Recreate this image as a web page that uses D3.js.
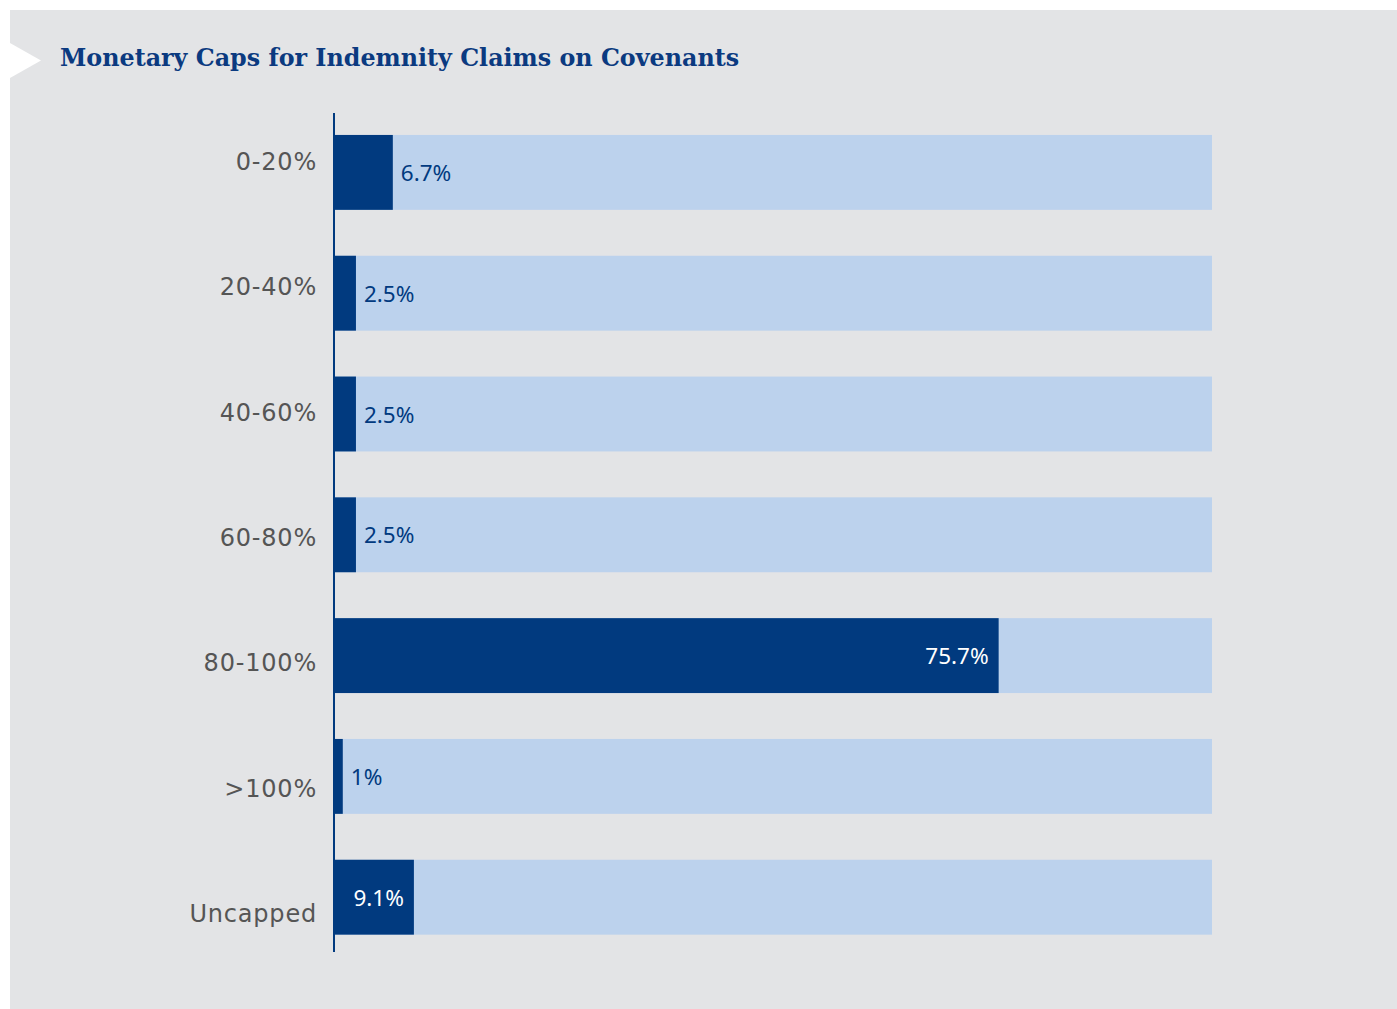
<!DOCTYPE html>
<html>
<head>
<meta charset="utf-8">
<script src="https://cdn.jsdelivr.net/npm/d3@7"></script>
<style>
  html, body { margin: 0; padding: 0; background: #ffffff; }
  svg { display: block; }
</style>
</head>
<body>
<svg id="chart" width="1397" height="1009"></svg>
<script>
// Monetary caps for indemnity claims on covenants, share of deals (%)
const categories = ["0-20%", "20-40%", "40-60%", "60-80%", "80-100%", ">100%", "Uncapped"];
const values = [6.7, 2.5, 2.5, 2.5, 75.7, 1, 9.1];
const valueLabels = ["6.7%", "2.5%", "2.5%", "2.5%", "75.7%", "1%", "9.1%"];
const title = "Monetary Caps for Indemnity Claims on Covenants";

const W = 1397, H = 1009;
const dark = "#013a7f", light = "#bcd2ed", panel = "#e3e4e6";

const svg = d3.select("#chart");

// panel background
svg.append("rect").attr("x", 10).attr("y", 10).attr("width", W - 10).attr("height", H - 10).attr("fill", panel);

// white arrow marker next to the title
svg.append("path").attr("d", "M10,43 L41,60.5 L10,78 Z").attr("fill", "#ffffff");

svg.append("text")
  .attr("x", 60).attr("y", 66)
  .attr("font-family", "'DejaVu Serif', serif")
  .attr("font-weight", "bold")
  .attr("font-size", 23.8)
  .attr("fill", "#0b3a80")
  .text(title);

const x0 = 334, x1 = 1212;
const x = d3.scaleLinear().domain([0, 100]).range([x0, x1]);
const y = d3.scaleBand().domain(categories).range([112, 957.6]).paddingInner(0.38).paddingOuter(0.19);
const yLabel = d3.scalePoint().domain(categories).range([162, 914]);

const rows = categories.map((c, i) => ({ cat: c, v: values[i], label: valueLabels[i] }));

// full-width track
svg.append("g").selectAll("rect").data(rows).join("rect")
  .attr("x", x(0)).attr("y", d => y(d.cat))
  .attr("width", x(100) - x(0)).attr("height", y.bandwidth())
  .attr("fill", light);

// value bars
svg.append("g").selectAll("rect").data(rows).join("rect")
  .attr("x", x(0)).attr("y", d => y(d.cat))
  .attr("width", d => x(d.v) - x(0)).attr("height", y.bandwidth())
  .attr("fill", dark);

// value labels: inside the bar when they fit, otherwise just past its end
const valG = svg.append("g")
  .attr("font-family", "'Noto Sans', sans-serif")
  .attr("font-size", 22.5);
valG.selectAll("text").data(rows).join("text")
  .attr("y", d => y(d.cat) + y.bandwidth() / 2)
  .attr("dominant-baseline", "central")
  .text(d => d.label)
  .each(function (d) {
    const tw = this.getComputedTextLength();
    const bw = x(d.v) - x(0);
    const t = d3.select(this);
    if (bw >= tw + 16) {
      t.attr("x", x(d.v) - 10).attr("text-anchor", "end").attr("fill", "#ffffff");
    } else {
      t.attr("x", x(d.v) + 8).attr("text-anchor", "start").attr("fill", dark);
    }
  });

// category labels
svg.append("g")
  .attr("font-family", "'DejaVu Sans', sans-serif")
  .attr("font-size", 24)
  .attr("fill", "#555555")
  .selectAll("text").data(categories).join("text")
  .attr("x", 317).attr("y", d => yLabel(d))
  .attr("text-anchor", "end")
  .attr("dominant-baseline", "central")
  .attr("letter-spacing", 0.8)
  .text(d => d);

// vertical axis line
svg.append("line")
  .attr("x1", x0).attr("x2", x0).attr("y1", 113).attr("y2", 952)
  .attr("stroke", dark).attr("stroke-width", 2);
</script>
</body>
</html>
